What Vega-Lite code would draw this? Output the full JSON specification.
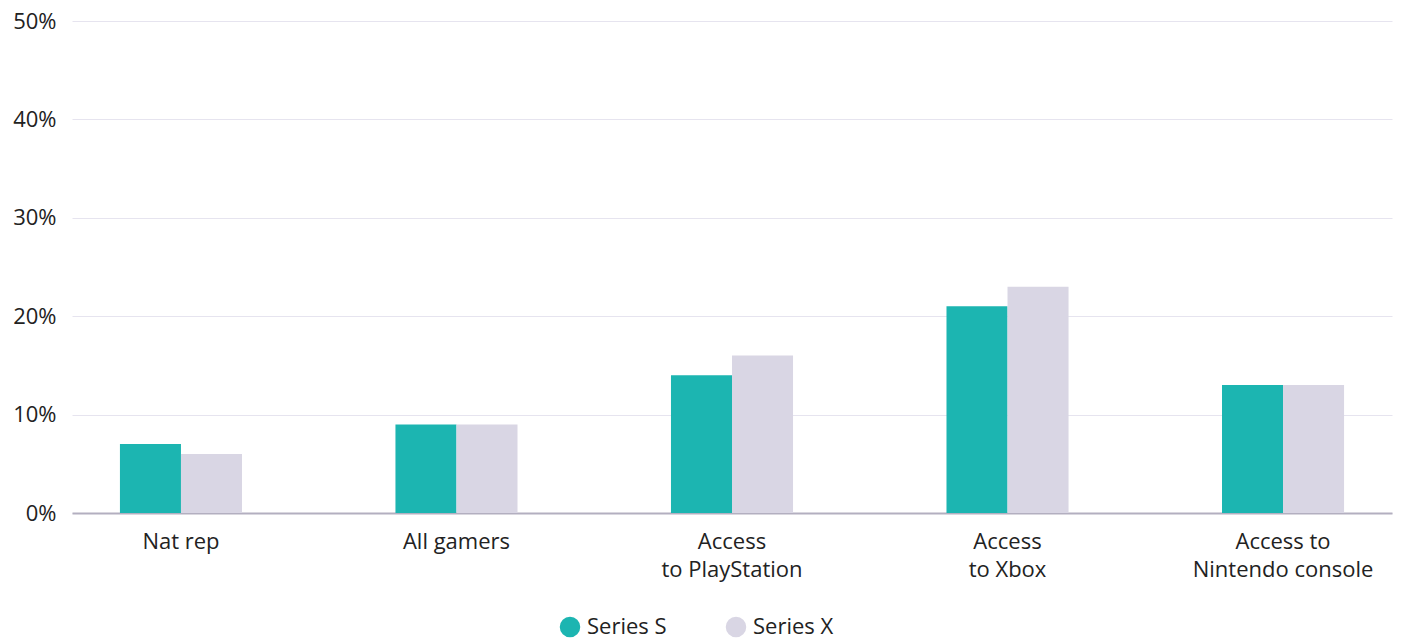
{
  "$schema": "https://vega.github.io/schema/vega-lite/v6.json",
  "width": 1320,
  "height": 492,
  "autosize": {"type": "none"},
  "padding": {"left": 72, "top": 21, "right": 11, "bottom": 127},
  "background": "white",
  "data": {
    "values": [
      {"group": "Nat rep", "series": "Series S", "value": 0.07},
      {"group": "Nat rep", "series": "Series X", "value": 0.06},
      {"group": "All gamers", "series": "Series S", "value": 0.09},
      {"group": "All gamers", "series": "Series X", "value": 0.09},
      {"group": "Access|to PlayStation", "series": "Series S", "value": 0.14},
      {"group": "Access|to PlayStation", "series": "Series X", "value": 0.16},
      {"group": "Access|to Xbox", "series": "Series S", "value": 0.21},
      {"group": "Access|to Xbox", "series": "Series X", "value": 0.23},
      {"group": "Access to|Nintendo console", "series": "Series S", "value": 0.13},
      {"group": "Access to|Nintendo console", "series": "Series X", "value": 0.13}
    ]
  },
  "mark": {"type": "bar"},
  "encoding": {
    "x": {
      "field": "group",
      "type": "nominal",
      "sort": null,
      "scale": {"paddingInner": 0.557, "paddingOuter": 0.174},
      "axis": {
        "title": null,
        "labelAngle": 0,
        "labelExpr": "split(datum.label, '|')",
        "labelFont": "Open Sans",
        "labelFontSize": 22,
        "labelColor": "#222222",
        "labelLineHeight": 28,
        "labelBaseline": "top",
        "labelPadding": 18,
        "labelLimit": 400,
        "ticks": false,
        "domain": true,
        "domainColor": "#b3afc0",
        "domainWidth": 2,
        "grid": false
      }
    },
    "xOffset": {"field": "series", "type": "nominal", "scale": {"paddingInner": 0, "paddingOuter": 0}},
    "y": {
      "field": "value",
      "type": "quantitative",
      "scale": {"domain": [0, 0.5]},
      "axis": {
        "title": null,
        "format": ".0%",
        "values": [0, 0.1, 0.2, 0.3, 0.4, 0.5],
        "labelFont": "Open Sans",
        "labelFontSize": 22,
        "labelColor": "#222222",
        "labelPadding": 16,
        "ticks": false,
        "domain": false,
        "grid": true,
        "gridColor": "#e6e4ef",
        "gridWidth": 1
      }
    },
    "color": {
      "field": "series",
      "type": "nominal",
      "scale": {"domain": ["Series S", "Series X"], "range": ["#1cb5b1", "#d9d6e4"]},
      "legend": {
        "title": null,
        "orient": "none",
        "legendX": 487,
        "legendY": 595,
        "direction": "horizontal",
        "symbolType": "circle",
        "symbolSize": 420,
        "symbolStrokeWidth": 0,
        "labelFont": "Open Sans",
        "labelFontSize": 22,
        "labelColor": "#222222",
        "labelOffset": 6,
        "columnPadding": 58
      }
    }
  },
  "config": {"view": {"stroke": null}}
}
